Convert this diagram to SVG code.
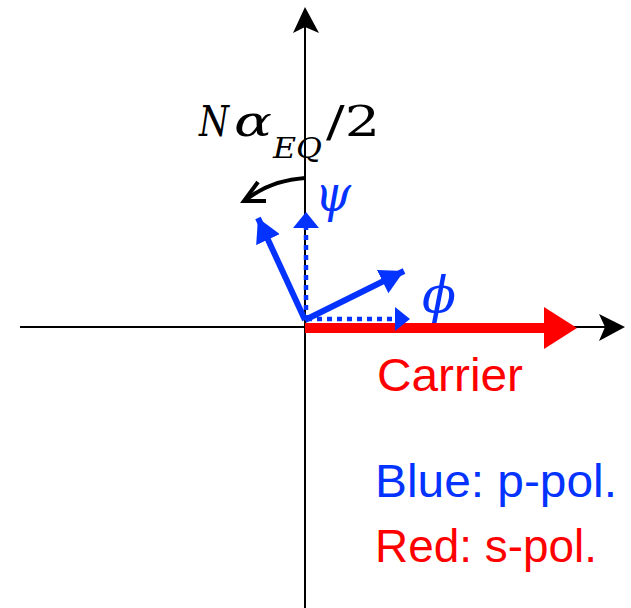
<svg xmlns="http://www.w3.org/2000/svg" width="631" height="608" viewBox="0 0 631 608">
  <style>
    .axis { stroke: #000; stroke-width: 2; fill: none; }
    .blue { stroke: #0433FF; stroke-width: 6; fill: none; }
    .dot { stroke: #0433FF; stroke-width: 4.5; fill: none; stroke-dasharray: 5 5; }
    .math { font-family: "DejaVu Serif", "Liberation Serif", serif; font-style: italic; }
    .up { font-family: "DejaVu Serif", "Liberation Serif", serif; }
    .lbl { font-family: "Liberation Sans", Arial, sans-serif; font-size: 46px; }
  </style>
  <defs>
    <marker id="blueHead" markerUnits="userSpaceOnUse" markerWidth="24" markerHeight="26" viewBox="0 0 22 24" refX="22" refY="12" orient="auto">
      <polygon points="0,0 22,12 0,24" fill="#0433FF"/>
    </marker>
  </defs>

  <g id="axes">
    <line class="axis" x1="20" y1="327" x2="615" y2="327"/>
    <polygon points="625,327 599,314 605,327 599,341" fill="#000"/>
    <line class="axis" x1="305" y1="608" x2="305" y2="17"/>
    <polygon points="305,7 293,33 305,27 319,33" fill="#000"/>
  </g>

  <g id="carrier">
    <line x1="305" y1="328" x2="548" y2="328" stroke="#FF0000" stroke-width="10"/>
    <polygon points="544,307 577,328 544,349" fill="#FF0000"/>
    <text class="lbl" x="377" y="391" fill="#FF0000" textLength="146" lengthAdjust="spacingAndGlyphs">Carrier</text>
  </g>

  <g id="connectors">
    <line class="dot" x1="306" y1="320" x2="306" y2="226"/>
    <polygon points="306,212 293,228 319,228" fill="#0433FF"/>
    <line class="dot" x1="307" y1="319" x2="396" y2="319"/>
    <polygon points="410,319 395,307 395,331" fill="#0433FF"/>
    <line class="blue" x1="305" y1="320" x2="258" y2="218" marker-end="url(#blueHead)"/>
    <line class="blue" x1="305" y1="320" x2="404" y2="271" marker-end="url(#blueHead)"/>
    <path d="M305,178 Q272,180 247,199" stroke="#000" stroke-width="4" fill="none"/>
    <polyline points="258,182 244,201 266,201" stroke="#000" stroke-width="4" fill="none" stroke-linejoin="miter"/>
  </g>

  <g id="labels">
    <text class="math" x="199" y="136" font-size="42" textLength="30" lengthAdjust="spacingAndGlyphs">N</text>
    <text class="math" x="234" y="136" font-size="42" textLength="38" lengthAdjust="spacingAndGlyphs">α</text>
    <text class="math" x="273" y="158" font-size="28" textLength="49" lengthAdjust="spacingAndGlyphs">EQ</text>
    <text class="up" x="326" y="136" font-size="42" textLength="54" lengthAdjust="spacingAndGlyphs">/2</text>
    <text class="math" x="315" y="211" font-size="50" fill="#0433FF" textLength="36" lengthAdjust="spacingAndGlyphs">ψ</text>
    <text class="math" x="422" y="312" font-size="50" fill="#0433FF" textLength="34" lengthAdjust="spacingAndGlyphs">ϕ</text>
    <text class="lbl" x="375" y="497" fill="#0433FF" textLength="242" lengthAdjust="spacingAndGlyphs">Blue: p-pol.</text>
    <text class="lbl" x="375" y="562" fill="#FF0000" textLength="222" lengthAdjust="spacingAndGlyphs">Red: s-pol.</text>
  </g>
</svg>
